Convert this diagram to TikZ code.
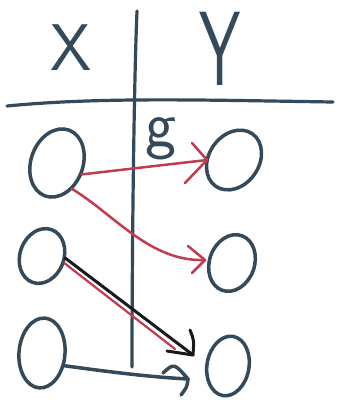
\documentclass[tikz,border=0pt]{standalone}
\usetikzlibrary{shapes.geometric,arrows.meta,calc}
\definecolor{ink}{HTML}{34495A}
\definecolor{redink}{HTML}{C23B4E}
\definecolor{blk}{HTML}{17191D}
\tikzset{
  circ/.style={ellipse, draw=ink, line width=3.5pt, inner sep=0pt, outer sep=1pt},
  gridline/.style={draw=ink, line width=3.2pt, line cap=round},
  lettr/.style={text=ink, inner sep=0pt, font=\sffamily\fontsize{66}{66}\selectfont},
  redarrow/.style={draw=redink, line width=2.5pt, line cap=round, line join=round},
  blkarrow/.style={draw=blk, line width=3pt, line cap=round, line join=round},
  inkarrow/.style={draw=ink, line width=3.5pt, line cap=round, line join=round},
}
\begin{document}
\begin{tikzpicture}[x=1pt,y=-1pt]
\useasboundingbox[fill=white] (0,0) rectangle (337,402);
% grid
\coordinate (hl) at (7,106);
\coordinate (hr) at (333,102);
\coordinate (vt) at (137,11);
\coordinate (vb) at (132,367);
\draw[gridline] (hl) .. controls (100,97) and (200,100) .. (hr);
\draw[gridline] (vt) .. controls (134,80) and (132,250) .. (vb);
% headers
\node[lettr] (hx) at (71,48) {X};
\node[lettr] (hy) at (220,49) {\scalebox{1}[1.6]{Y}};
% nodes
\node[circ, minimum width=52pt, minimum height=70pt, rotate=-20] (x1) at (57,163) {};
\node[circ, minimum width=50pt, minimum height=64pt, rotate=-35] (y1) at (234,160) {};
\node[circ, minimum width=44pt, minimum height=56pt, rotate=-20] (x2) at (42,256) {};
\node[circ, minimum width=45pt, minimum height=58pt, rotate=-20] (y2) at (232,263) {};
\node[circ, minimum width=46pt, minimum height=70pt, rotate=-5] (x3) at (42,353) {};
\node[circ, minimum width=42pt, minimum height=60pt, rotate=-10] (y3) at (228,366) {};
% label
\node[text=ink, inner sep=0pt, font=\sffamily\fontsize{66}{66}\selectfont] (g) at (161,139) {g};
% arrow tips (free ends)
\coordinate (t1) at (207,160);
\coordinate (t2) at (205,260);
\coordinate (tipa) at (193,355);
\coordinate (tipb) at (188,379);
% red arrows
\draw[redarrow] (x1.-5) -- (t1);
\draw[redarrow] ($(t1)+(-15,-17)$) -- (t1) -- ($(t1)+(-22,23)$);
\draw[redarrow] (x1.-40) .. controls (115,215) and (150,262) .. (t2);
\draw[redarrow] ($(t2)+(-17,-14)$) -- (t2) -- ($(t2)+(-13,13)$);
% black diagonal with red under-stroke
\draw[redink, line width=2.2pt, line cap=round] ([shift={(-1,5)}]x2.15) -- ($(tipa)+(-18,-6)$);
\draw[blkarrow] (x2.15) -- (tipa);
\draw[blkarrow] ($(tipa)+(-3,-25)$) .. controls ($(tipa)+(1,-15)$) .. (tipa) -- ($(tipa)+(-26,-4)$);
% bottom arrow
\draw[inkarrow] (x3.-25) .. controls (110,372) and (150,377) .. (tipb);
\draw[inkarrow] ($(tipb)+(-25,-6)$) .. controls ($(tipb)+(-14,-16)$) .. (tipb) .. controls ($(tipb)+(-1,8)$) .. ($(tipb)+(-7,16)$);
\end{tikzpicture}
\end{document}
